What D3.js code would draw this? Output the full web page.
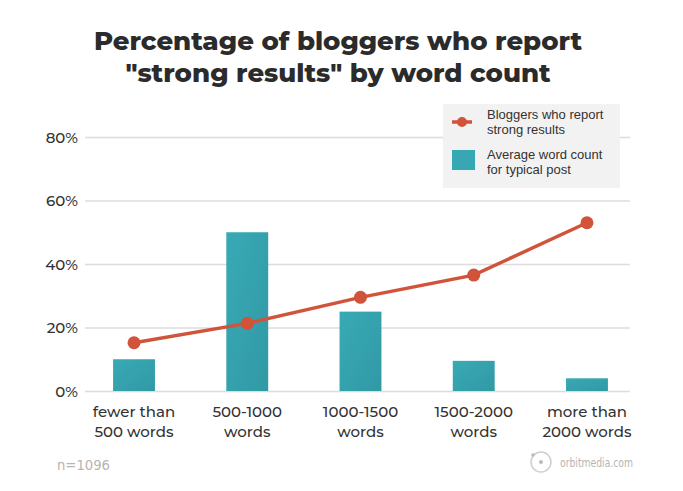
<!DOCTYPE html>
<html><head><meta charset="utf-8">
<script src="https://cdn.jsdelivr.net/npm/d3@7"></script>
<style>body{margin:0;background:#fff;} svg{display:block;}</style>
</head><body>
<script>
const categories = ["fewer than|500 words","500-1000|words","1000-1500|words","1500-2000|words","more than|2000 words"];
const barValues = [10, 50, 25, 9.5, 4];          // Average word count for typical post (%)
const lineValues = [15.2, 21.3, 29.5, 36.5, 53]; // Bloggers who report strong results (%)
const yTicks = [0, 20, 40, 60, 80];
const titleLines = ["Percentage of bloggers who report", "\"strong results\" by word count"];
const legendLabels = [["Bloggers who report","strong results"],["Average word count","for typical post"]];

const W = 683, H = 491;
const svg = d3.select("body").append("svg").attr("width", W).attr("height", H);
const defs = svg.append("defs");
const grad = defs.append("linearGradient").attr("id","bg").attr("x1","0").attr("y1","0").attr("x2","1").attr("y2","1");
grad.append("stop").attr("offset","0").attr("stop-color","#38aab5");
grad.append("stop").attr("offset","1").attr("stop-color","#3199a5");

const font = "Montserrat, 'Open Sans', 'DejaVu Sans', sans-serif";
const x = d3.scaleBand().domain(categories).range([77.4, 643.6]).paddingInner(0.63).paddingOuter(0.315);
const y = d3.scaleLinear().domain([0, 80]).range([391, 137]);

// title
svg.append("g").selectAll("text").data(titleLines).join("text")
  .attr("x", 338).attr("y", (d,i)=>50 + i*32).attr("text-anchor","middle")
  .attr("font-family", font).attr("font-weight", 800).attr("font-size", 26).attr("fill","#2b2b2b")
  .text(d=>d);

// grid
const yAxis = d3.axisLeft(y).tickValues(yTicks).tickSize(-(630-85)).tickFormat(d=>d+"%");
const ga = svg.append("g").attr("transform","translate(85,0)").call(yAxis);
ga.select(".domain").remove();
ga.selectAll(".tick line").attr("stroke","#dcdcdc").attr("stroke-width",1.5);
ga.selectAll(".tick text").attr("x",-7).attr("dy","0.35em").attr("font-family",font).attr("font-size",15).attr("font-weight",500).attr("fill","#333");

// bars
svg.append("g").selectAll("rect").data(barValues).join("rect")
  .attr("x",(d,i)=>x(categories[i])).attr("width",x.bandwidth())
  .attr("y",d=>y(d)).attr("height",d=>y(0)-y(d)).attr("fill","url(#bg)");

// line
const cx = (i)=>x(categories[i]) + x.bandwidth()/2;
svg.append("path").datum(lineValues)
  .attr("d", d3.line().x((d,i)=>cx(i)).y(d=>y(d)))
  .attr("fill","none").attr("stroke","#d0533a").attr("stroke-width",3.5);
svg.append("g").selectAll("circle").data(lineValues).join("circle")
  .attr("cx",(d,i)=>cx(i)).attr("cy",d=>y(d)).attr("r",6.5).attr("fill","#d0533a");

// x labels
const xl = svg.append("g").selectAll("text").data(categories).join("text")
  .attr("text-anchor","middle").attr("font-family",font).attr("font-size",15).attr("font-weight",500).attr("fill","#333");
xl.selectAll("tspan").data((d,i)=>d.split("|").map(s=>({s,i}))).join("tspan")
  .attr("x",d=>cx(d.i)).attr("y",(d,j)=>417+j*20).text(d=>d.s);

// legend
const lg = svg.append("g");
lg.append("rect").attr("x",443).attr("y",104).attr("width",177).attr("height",84).attr("fill","#f2f2f2");
lg.append("line").attr("x1",452).attr("x2",472).attr("y1",122).attr("y2",122).attr("stroke","#d0533a").attr("stroke-width",3.5);
lg.append("circle").attr("cx",462).attr("cy",122).attr("r",5).attr("fill","#d0533a");
lg.append("rect").attr("x",452).attr("y",150).attr("width",23).attr("height",20).attr("fill","#36a8b3");
legendLabels.forEach((lines,k)=>{
  lines.forEach((t,j)=>{
    lg.append("text").attr("x",487).attr("y",123 + k*40 + j*15 - 4).attr("font-family","'Liberation Sans', Arial, sans-serif")
      .attr("font-size",13).attr("fill","#333").text(t);
  });
});

// footer
svg.append("text").attr("x",57).attr("y",470).attr("font-family","'DejaVu Sans Condensed','Liberation Sans Narrow',sans-serif")
  .attr("font-size",13.5).attr("fill","#b5b5b5").attr("textLength",53).attr("lengthAdjust","spacingAndGlyphs").text("n=1096");
svg.append("circle").attr("cx",541).attr("cy",462).attr("r",10).attr("fill","none").attr("stroke","#cfcfcf").attr("stroke-width",1.5);
svg.append("circle").attr("cx",541).attr("cy",462).attr("r",2).attr("fill","#bbb");
svg.append("circle").attr("cx",533).attr("cy",455).attr("r",1.8).attr("fill","#bbb");
svg.append("text").attr("x",560).attr("y",467).attr("font-family","'Liberation Sans Narrow','DejaVu Sans Condensed',sans-serif")
  .attr("font-size",12.5).attr("fill","#b5b5b5").attr("textLength",73).attr("lengthAdjust","spacingAndGlyphs").text("orbitmedia.com");
</script>
</body></html>
